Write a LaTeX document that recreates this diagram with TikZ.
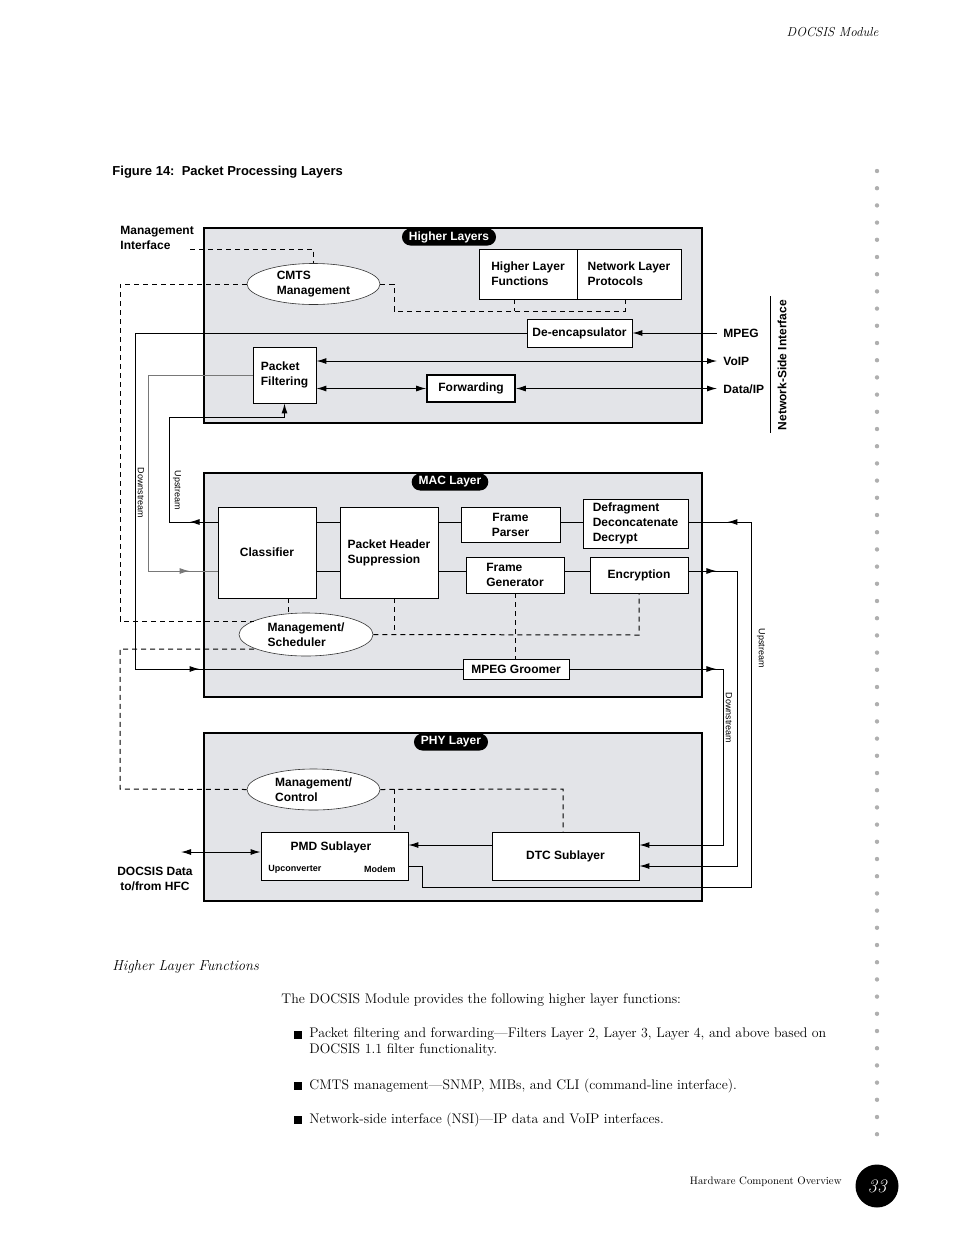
\documentclass[tikz,border=0pt]{standalone}
\usepackage{fontspec}
\newfontfamily\diagfont{Liberation Sans}
\usetikzlibrary{arrows.meta,shapes.geometric,decorations.markings}

\definecolor{layergray}{RGB}{227,228,232}
\definecolor{dotgray}{RGB}{175,175,175}
\definecolor{dsgray}{RGB}{120,120,120}

\tikzset{every picture/.style={line width=0.9pt},
  layer/.style={draw, fill=layergray, line width=1.3pt, inner sep=0pt},
  tab/.style={fill=black, text=white, rounded corners=8.5pt, minimum height=17pt, inner xsep=7pt, inner ysep=0pt, font=\diagfont\bfseries\fontsize{12}{14}\selectfont},
  blk/.style={draw, fill=white, line width=0.9pt, inner sep=2pt, align=left, font=\diagfont\bfseries\fontsize{12}{15}\selectfont},
  mgmt/.style={draw=black!80, ellipse, fill=white, line width=0.6pt, inner sep=0pt, minimum width=133pt, minimum height=41pt, align=left, font=\diagfont\bfseries\fontsize{12}{15}\selectfont},
  lbl/.style={inner sep=0pt, align=left, font=\diagfont\bfseries\fontsize{12}{15}\selectfont},
  small/.style={inner sep=0pt, font=\diagfont\fontsize{9}{10}\selectfont},
  tiny/.style={inner sep=0pt, font=\diagfont\bfseries\fontsize{9}{10}\selectfont},
  body/.style={inner sep=0pt, align=left, font=\fontsize{13.9}{16}\selectfont},
  ctrl/.style={line width=1pt, dash pattern=on 5pt off 4pt},
  link/.style={line width=1pt},
  tip/.style={-{Latex[length=10pt,width=6pt]}},
  tipboth/.style={{Latex[length=10pt,width=6pt]}-{Latex[length=10pt,width=6pt]}},
  midarrow/.style={postaction={decorate, decoration={markings, mark=at position #1 with {\arrow{Latex[length=10pt,width=6pt]}}}}}
}

\begin{document}
\begin{tikzpicture}[x=1pt,y=1pt,yscale=-1]
\useasboundingbox (0,0) rectangle (954,1235);

% page frame
\node[anchor=east, inner sep=0pt, font=\itshape\fontsize{13}{15}\selectfont] (hdr) at (879,32) {DOCSIS Module};
\foreach \i in {0,...,56}
  \fill[dotgray] (877,{171+\i*17.2}) circle (2.2);
\node[circle, fill=black, minimum size=43pt, inner sep=0pt, text=white, font=\itshape\fontsize{19}{21}\selectfont] (pgnum) at (877,1186) {33};
\node[anchor=east, inner sep=0pt, font=\fontsize{10.8}{12}\selectfont] (ftr) at (842,1182) {Hardware Component Overview};

\node[lbl, anchor=west, font=\diagfont\bfseries\fontsize{13}{15}\selectfont] (figttl) at (112,172) {Figure 14:\ \ Packet Processing Layers};

% layer boxes
\node[layer, minimum width=498pt, minimum height=195pt] (hlbox) at (453,325.5) {};
\node[layer, minimum width=498pt, minimum height=224pt] (macbox) at (453,585) {};
\node[layer, minimum width=498pt, minimum height=168pt] (phybox) at (453,817) {};
\node[tab] (hltab) at (449,237) {Higher Layers};
\node[tab] (mactab) at (450,482) {MAC Layer};
\node[tab] (phytab) at (451,742) {PHY Layer};

% higher layers
\node[mgmt] (cmts) at (313.5,284) {CMTS\\Management};
\node[blk, minimum width=98pt, minimum height=50pt] (hlf) at (528,274) {Higher Layer\\Functions};
\node[blk, minimum width=104pt, minimum height=50pt] (nlp) at (629,274) {Network Layer\\Protocols};
\node[blk, minimum width=105pt, minimum height=28pt] (deenc) at (579.5,333) {De-encapsulator};
\node[blk, minimum width=63pt, minimum height=56pt] (pfilt) at (284.5,375) {Packet\\Filtering};
\node[blk, minimum width=88pt, minimum height=27pt, line width=1.6pt] (fwd) at (471,388.5) {Forwarding};

\node[lbl, anchor=west] (mgmtif) at (120,237.5) {Management\\Interface};
\node[lbl, anchor=west] (mpeg) at (723,333) {MPEG};
\node[lbl, anchor=west] (voip) at (723,361) {VoIP};
\node[lbl, anchor=west] (dataip) at (723,389) {Data/IP};
\node[lbl, rotate=90] (nsi) at (782,365) {Network-Side Interface};
\coordinate (nsitop) at (770,296);
\coordinate (nsibot) at (770,433);
\draw[link] (nsitop) -- (nsibot);

% MAC layer
\node[blk, minimum width=98pt, minimum height=91pt, align=center] (clsf) at (267,552.5) {Classifier};
\node[blk, minimum width=98pt, minimum height=91pt] (phs) at (389,552.5) {Packet Header\\Suppression};
\node[blk, minimum width=99pt, minimum height=35pt, align=center] (fparse) at (510.5,524.5) {Frame\\Parser};
\node[blk, minimum width=105pt, minimum height=49pt] (defrag) at (635.5,523.5) {Defragment\\Deconcatenate\\Decrypt};
\node[blk, minimum width=98pt, minimum height=36pt] (fgen) at (515,575) {Frame\\Generator};
\node[blk, minimum width=98pt, minimum height=36pt, align=center] (encr) at (639,575) {Encryption};
\node[blk, minimum width=106pt, minimum height=20pt, inner sep=1pt] (groom) at (516,669) {MPEG Groomer};
\node[mgmt, minimum width=134pt, minimum height=43pt] (msched) at (306,634.5) {Management/\\Scheduler};

% PHY layer
\node[mgmt] (mctl) at (313.5,789.5) {Management/\\Control};
\node[blk, minimum width=147pt, minimum height=48pt] (pmd) at (334.5,856) {};
\node[lbl] (pmdttl) at (331,847) {PMD Sublayer};
\node[tiny, anchor=west] (upc) at (268,869.5) {Upconverter};
\node[tiny, anchor=east] (mdm) at (396,869.5) {Modem};
\node[blk, minimum width=147pt, minimum height=48pt, align=center] (dtc) at (565.5,856) {DTC Sublayer};
\node[lbl, align=center] (hfc) at (155,878.5) {DOCSIS Data\\to/from HFC};

% rows and corners
\coordinate (rowa) at (0,522);
\coordinate (rowb) at (0,571);
\coordinate (rowp) at (0,845);
\coordinate (rowm) at (0,866);
\coordinate (mifrom) at (190,249);
\coordinate (hlbus) at (394,311);
\coordinate (macbus) at (394,635);
\coordinate (phybus) at (563,789);
\coordinate (pmdtap) at (394,789);
\coordinate (mgl) at (120,284);
\coordinate (mgs) at (120,621);
\coordinate (mgp) at (120,649);
\coordinate (mgc) at (120,789);
\coordinate (upc1) at (169,417);
\coordinate (dsc) at (148,571);
\coordinate (dec) at (135,669);
\coordinate (mdx) at (422,887);
\coordinate (usc) at (751,522);
\coordinate (enc2) at (737,866);
\coordinate (gr2) at (723,845);
\coordinate (hfcend) at (181,852);

% management (dashed)
\draw[ctrl] (mifrom) -| (cmts.north);
\draw[ctrl] (cmts.east) -| (hlbus) -| ([xshift=-4pt]nlp.south);
\draw[ctrl] ([xshift=-14pt]hlf.south) -- ([xshift=-14pt]hlf.south |- hlbus);
\draw[ctrl] (cmts.west) -- (mgl) -- (mgs) -- (mgs -| msched.165);
\draw[ctrl] (mgp -| msched.195) -- (mgp) -- (mgc) -- (mctl.west);
\draw[ctrl] ([xshift=21pt]clsf.south) -- ([xshift=21pt]clsf.south |- msched.north);
\draw[ctrl] (msched.east) -- (encr.south |- macbus) -- (encr.south);
\draw[ctrl] (macbus |- phs.south) -- (macbus);
\draw[ctrl] (fgen.south) -- (fgen.south |- groom.north);
\draw[ctrl] (mctl.east) -- (phybus) -- (phybus |- dtc.north);
\draw[ctrl] (pmdtap) -- (pmdtap |- pmd.north);

% data paths, higher layers
\draw[link, tip] (mpeg.west) ++(-6pt,0) -- (deenc.east);
\draw[link, tipboth] (pfilt.east |- voip) -- ([xshift=-6pt]voip.west);
\draw[link, tipboth] (pfilt.east |- fwd) -- (fwd.west);
\draw[link, tipboth] (fwd.east) -- ([xshift=-6pt]dataip.west |- fwd);

% data paths, MAC layer
\draw[link] (clsf.east |- rowa) -- (phs.west |- rowa);
\draw[link] (phs.east |- rowa) -- (fparse.west |- rowa);
\draw[link] (fparse.east |- rowa) -- (defrag.west |- rowa);
\draw[link] (clsf.east |- rowb) -- (phs.west |- rowb);
\draw[link] (phs.east |- rowb) -- (fgen.west |- rowb);
\draw[link] (fgen.east |- rowb) -- (encr.west |- rowb);

\draw[link, tip, midarrow=28pt] (clsf.west |- rowa) -| (upc1) -| (pfilt.south);
\draw[link, draw=dsgray, midarrow=-28pt] (pfilt.west) -| (dsc) -- (clsf.west |- rowb);
\draw[link, midarrow=-263pt] (deenc.west) -| (dec) -- (groom.west);
\node[small, rotate=-90] (dslbl) at (141,493) {Downstream};
\node[small, rotate=-90] (uslbl) at (177,490) {Upstream};

% MAC <-> PHY
\draw[link, midarrow=-39pt] (pmd.east |- rowm) -| (mdx) -| (usc) -- (defrag.east |- rowa);
\draw[link, tip, midarrow=28pt] (encr.east |- rowb) -| (enc2) -- (dtc.east |- rowm);
\draw[link, tip, midarrow=147pt] (groom.east) -| (gr2) -- (dtc.east |- rowp);
\node[small, rotate=-90] (uslbl2) at (761,648) {Upstream};
\node[small, rotate=-90] (dslbl2) at (729,718) {Downstream};

% PHY layer paths
\draw[link, tip] (dtc.west |- rowp) -- (pmd.east |- rowp);
\draw[link, tipboth] (hfcend) -- (pmd.west |- hfcend);

% text below the figure
\node[anchor=west, inner sep=0pt, font=\itshape\fontsize{14.5}{16}\selectfont] (sect) at (112,967) {Higher Layer Functions};
\node[body, anchor=west] (intro) at (281,1000) {The DOCSIS Module provides the following higher layer functions:};
\foreach \y/\nm in {1035/b1, 1086/b2, 1120/b3}
  \node[fill=black, minimum size=8pt, inner sep=0pt] (\nm) at (297.5,\y) {};
\node[body, anchor=north west] (item1) at (309,1027) {Packet filtering and forwarding---Filters Layer 2, Layer 3, Layer 4, and above based on\\DOCSIS 1.1 filter functionality.};
\node[body, anchor=west] (item2) at (309,1086) {CMTS management---SNMP, MIBs, and CLI (command-line interface).};
\node[body, anchor=west] (item3) at (309,1120) {Network-side interface (NSI)---IP data and VoIP interfaces.};

\end{tikzpicture}
\end{document}
